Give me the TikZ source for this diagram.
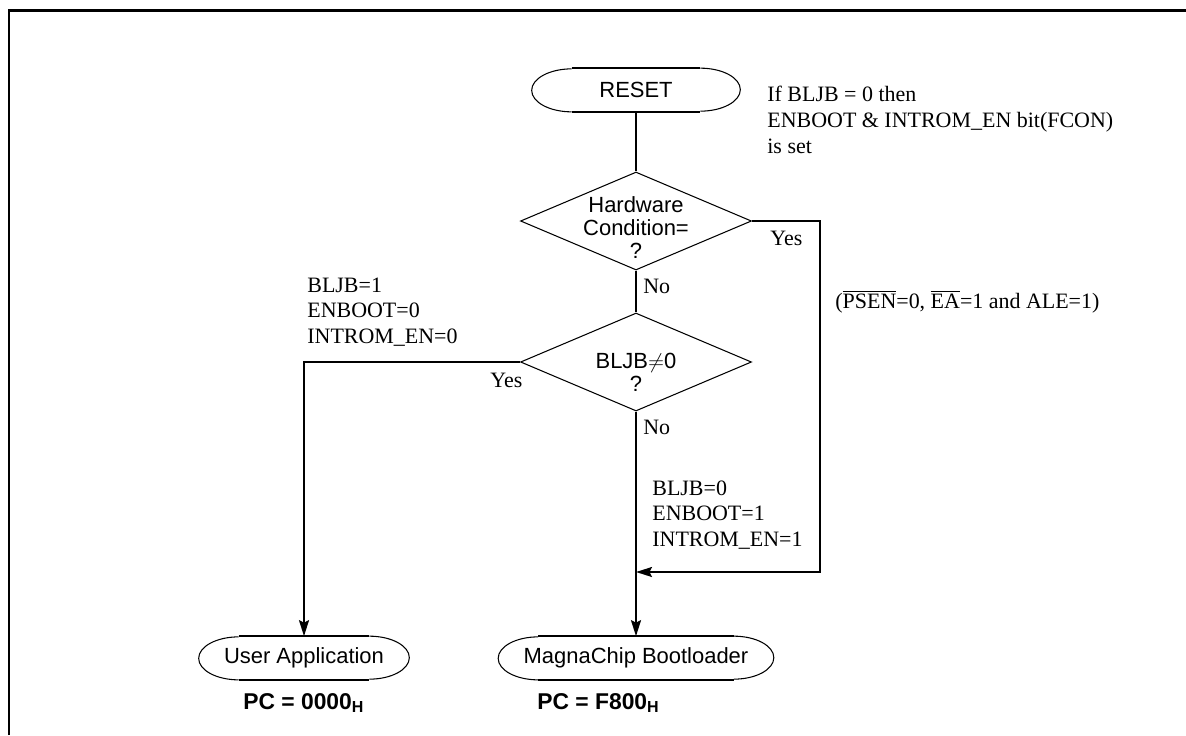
\documentclass[tikz,border=0pt]{standalone}
\usepackage{fontspec}
\setmainfont{Liberation Serif}
\setsansfont{Liberation Sans}
\usetikzlibrary{arrows.meta,positioning,shapes.geometric,calc}

\newcommand{\termline}[1]{%
  \draw[line width=1.1pt] ($(#1.north west)+(0.8cm,0pt)$) -- ($(#1.north east)+(-0.8cm,0pt)$)
    ($(#1.south west)+(0.8cm,0pt)$) -- ($(#1.south east)+(-0.8cm,0pt)$);
  \draw[line width=0.6pt] ($(#1.north east)+(-0.8cm,0pt)$) arc[start angle=90,end angle=-90,x radius=0.8cm,y radius=0.43cm]
    ($(#1.south west)+(0.8cm,0pt)$) arc[start angle=270,end angle=90,x radius=0.8cm,y radius=0.43cm];}

\begin{document}
\begin{tikzpicture}[
    x=0.02cm, y=-0.02cm,
    term/.style={font=\fontsize{12.5}{13}\selectfont\sffamily, minimum height=0.86cm, inner sep=0pt},
    dia/.style={diamond, draw, line width=0.6pt, minimum width=4.62cm, minimum height=1.96cm, inner sep=0pt, aspect=2.35},
    dtext/.style={font=\fontsize{12.5}{13.1}\selectfont\sffamily, align=center},
    note/.style={font=\fontsize{12.5}{14.6}\selectfont, align=left, inner sep=0pt, anchor=west},
    pclabel/.style={font=\fontsize{13}{15}\selectfont\sffamily\bfseries, inner sep=0pt, anchor=west},
    conn/.style={line width=1.1pt},
    arr/.style={conn, -{Stealth[length=0.32cm, width=0.2cm, inset=0.05cm]}}
  ]
  \useasboundingbox (0,0) rectangle (1186,735);
  \draw[line width=1.7pt] (9,735) -- (9,10) -- (1186,10);

  \node[term, minimum width=4.16cm] (reset) at (636,90) {RESET};
  \termline{reset}
  \node[note] (ifnote) at (767,120) {If BLJB = 0 then\\ENBOOT \& INTROM\_EN bit(FCON)\\is set};

  \node[dia, label={[dtext, yshift=-0.14cm]center:{Hardware\\Condition=\\?}}] (hwcond) at (636,221) {};
  \node[note] (yesright) at (770,238) {Yes};
  \node[note] (nohw) at (643,286) {No};
  \node[note] (pins) at (835,302) {($\overline{\mbox{PSEN}}$=0, $\overline{\mbox{EA}}$=1 and ALE=1)};

  \node[dia, label={[dtext, yshift=-0.2cm]center:{BLJB$\neq$0\\?}}] (bljb) at (636,362) {};
  \node[note] (setuser) at (307,312) {BLJB=1\\ENBOOT=0\\INTROM\_EN=0};
  \node[note] (yesleft) at (490,380) {Yes};
  \node[note] (nobljb) at (643,427) {No};
  \node[note] (setboot) at (652,515) {BLJB=0\\ENBOOT=1\\INTROM\_EN=1};

  \node[term, minimum width=4.2cm] (user) at (304,658) {User Application};
  \termline{user}
  \node[term, minimum width=5.5cm] (boot) at (636,658) {MagnaChip Bootloader};
  \termline{boot}
  \node[pclabel] (pcuser) at (243,703) {PC = 0000\textsubscript{H}};
  \node[pclabel] (pcboot) at (537,703) {PC = F800\textsubscript{H}};

  \coordinate (ret) at (820,572);
  \coordinate (merge) at (636,572);

  \draw[conn] (reset) -- (hwcond);
  \draw[conn] (hwcond) -- (bljb);
  \draw[arr] (hwcond.east) -| (ret) -- (merge);
  \draw[arr] (bljb.west) -| (user.north);
  \draw[arr] (bljb) -- (boot);
\end{tikzpicture}
\end{document}
